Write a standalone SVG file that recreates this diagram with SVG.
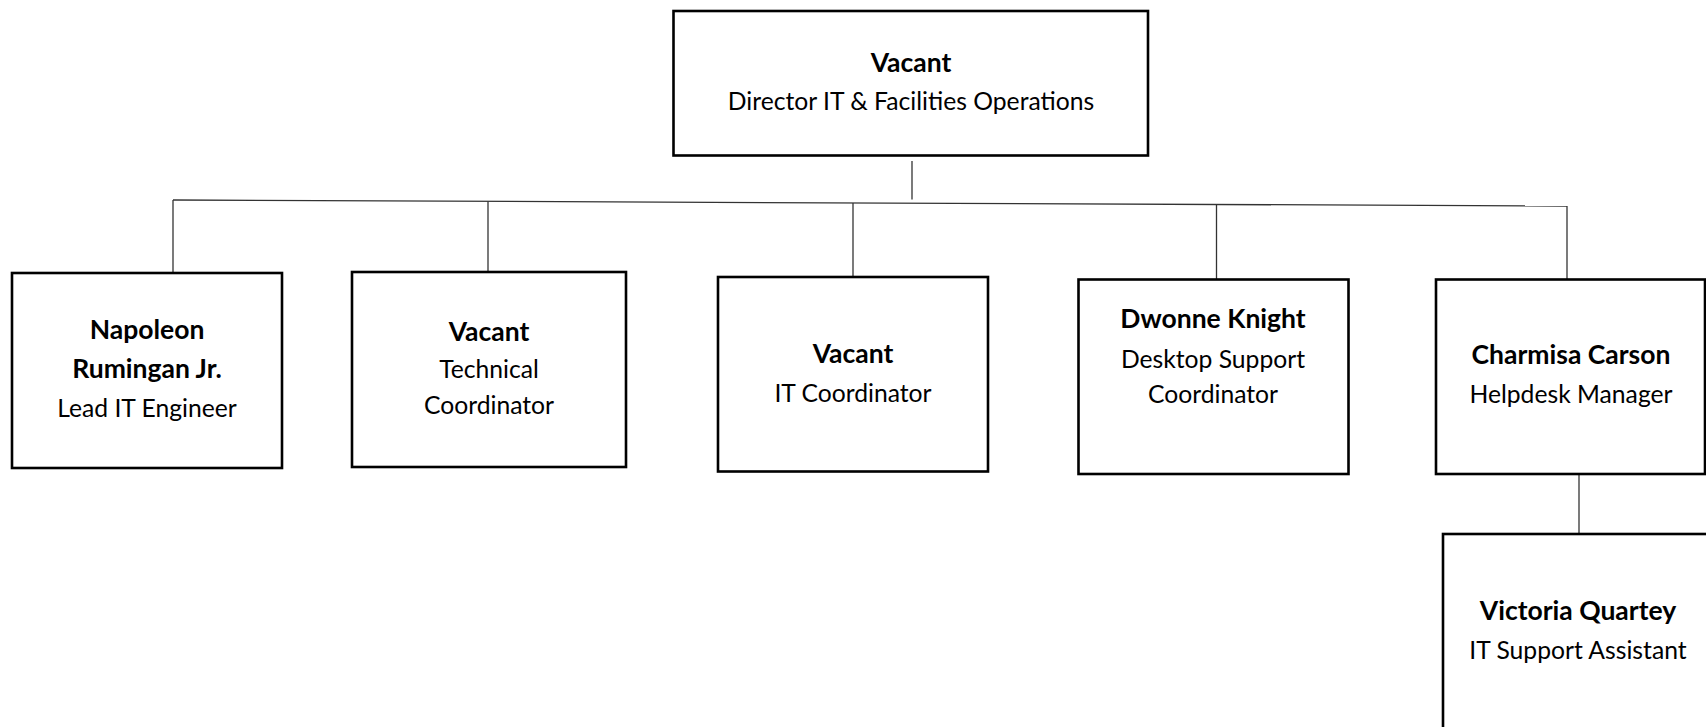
<svg xmlns="http://www.w3.org/2000/svg" width="1706" height="727" viewBox="0 0 1706 727">
<style>
.box{fill:#fff;stroke:#000;stroke-width:2.6}
.t{font-family:Lato,"Open Sans","Liberation Sans",sans-serif;font-size:24.7px;fill:#000;text-anchor:middle}
.b{font-weight:bold;font-size:26.5px}
.c{fill:none;stroke:#333;stroke-width:1.3}
</style>
<rect width="1706" height="727" fill="#fff"/>
<g id="connectors">
<line class="c" x1="912" y1="161" x2="912" y2="199.5"/>
<line class="c" x1="173" y1="200" x2="1567" y2="206"/>
<line class="c" x1="173" y1="200" x2="173" y2="273"/>
<line class="c" x1="488" y1="201.4" x2="488" y2="272"/>
<line class="c" x1="853" y1="202.9" x2="853" y2="277"/>
<line class="c" x1="1216.5" y1="204.5" x2="1216.5" y2="279"/>
<line class="c" x1="1567" y1="206" x2="1567" y2="279"/>
<line class="c" x1="1579" y1="474" x2="1579" y2="534"/>
</g>
<g id="director">
<rect class="box" x="673.5" y="11" width="474.5" height="144.5"/>
<text class="t b" x="911" y="72">Vacant</text>
<text class="t" x="911" y="110">Director IT &amp; Facilities Operations</text>
</g>
<g id="napoleon">
<rect class="box" x="12" y="273" width="270" height="195"/>
<text class="t b" x="147" y="339">Napoleon</text>
<text class="t b" x="147" y="378">Rumingan Jr.</text>
<text class="t" x="147" y="417">Lead IT Engineer</text>
</g>
<g id="technical">
<rect class="box" x="352" y="272" width="274" height="195"/>
<text class="t b" x="489" y="341">Vacant</text>
<text class="t" x="489" y="378">Technical</text>
<text class="t" x="489" y="414">Coordinator</text>
</g>
<g id="itcoord">
<rect class="box" x="718" y="277" width="270" height="194.5"/>
<text class="t b" x="853" y="362.5">Vacant</text>
<text class="t" x="853" y="401.5">IT Coordinator</text>
</g>
<g id="dwonne">
<rect class="box" x="1078.5" y="279.5" width="270" height="194.5"/>
<text class="t b" x="1213" y="328">Dwonne Knight</text>
<text class="t" x="1213" y="367.5">Desktop Support</text>
<text class="t" x="1213" y="402.5">Coordinator</text>
</g>
<g id="charmisa">
<rect class="box" x="1436" y="279.5" width="269" height="194.5"/>
<text class="t b" x="1571" y="364">Charmisa Carson</text>
<text class="t" x="1571" y="403">Helpdesk Manager</text>
</g>
<g id="victoria">
<rect class="box" x="1443" y="534" width="280" height="220"/>
<text class="t b" x="1578" y="620">Victoria Quartey</text>
<text class="t" x="1578" y="659">IT Support Assistant</text>
</g>
</svg>
